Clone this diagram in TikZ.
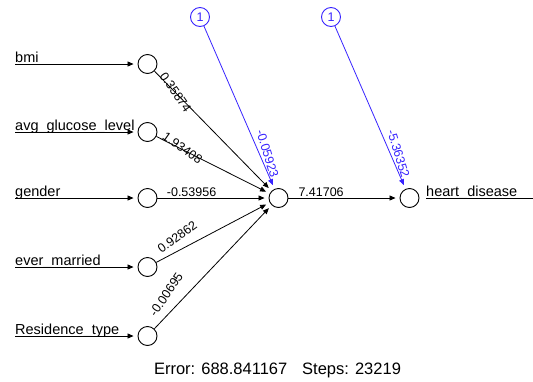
\documentclass[tikz,border=0pt]{standalone}
\usepackage{fontspec}
\setmainfont{Liberation Sans}
\usetikzlibrary{arrows.meta}
\definecolor{biasblue}{RGB}{55,35,255}
\begin{document}
\begin{tikzpicture}[x=1pt,y=-1pt,
  neuron/.style={circle,draw=black,line width=0.9pt,minimum size=19pt,inner sep=0pt},
  biasnode/.style={neuron,draw=biasblue,text=biasblue,font=\fontsize{12.5}{14}\selectfont},
  syn/.style={line width=0.8pt,-{Triangle[length=6pt,width=5pt]},shorten >=4pt},
  biassyn/.style={syn,draw=biasblue},
  wlab/.style={font=\fontsize{12.5}{14}\selectfont,inner sep=0pt,anchor=west},
  inlab/.style={font=\fontsize{14.5}{16}\selectfont,inner sep=0pt,anchor=base west},
]
\useasboundingbox (0,0) rectangle (533,381);

% neurons
\node[neuron] (bmi) at (147.5,64) {};
\node[neuron] (avg) at (147.5,132) {};
\node[neuron] (gen) at (147.5,198) {};
\node[neuron] (eve) at (147.5,267) {};
\node[neuron] (res) at (147.5,336) {};
\node[neuron] (hid) at (278.5,198) {};
\node[neuron] (out) at (409.5,198) {};
\node[biasnode] (b1) at (200,17) {1};
\node[biasnode] (b2) at (331,17) {1};

% input lines with their labels
\coordinate (s1) at (15,64);
\coordinate (s2) at (15,132);
\coordinate (s3) at (15,198);
\coordinate (s4) at (15,267);
\coordinate (s5) at (15,336);
\draw[syn] (s1) -- (bmi);
\draw[syn] (s2) -- (avg);
\draw[syn] (s3) -- (gen);
\draw[syn] (s4) -- (eve);
\draw[syn] (s5) -- (res);
\node[inlab] at (15,62) {bmi};
\node[inlab] at (15,130) {avg\_glucose\_level};
\node[inlab] at (15,196) {gender};
\node[inlab] at (15,265) {ever\_married};
\node[inlab] at (15,334) {Residence\_type};

% input to hidden synapses
\draw[syn] (bmi) -- (hid);
\draw[syn] (avg) -- (hid);
\draw[syn] (gen) -- (hid);
\draw[syn] (eve) -- (hid);
\draw[syn] (res) -- (hid);
\node[wlab,rotate=-55.1] at (162.5,73.5) {0.35874};
\node[wlab,rotate=-35.2] at (164,135) {1.93408};
\node[wlab] at (166.7,192.5) {-0.53956};
\node[wlab,rotate=36.4] at (158.9,250.4) {0.92862};
\node[wlab,rotate=55.8] at (152.2,315) {-0.00695};

% intercepts
\draw[biassyn] (b1) -- (hid);
\draw[biassyn] (b2) -- (out);
\node[wlab,text=biasblue,rotate=-72.9] at (260.1,129.8) {-0.05923};
\node[wlab,text=biasblue,rotate=-72.9] at (391.1,129.8) {-5.36352};

% hidden to output
\draw[syn] (hid) -- (out);
\node[wlab] at (298.3,192.5) {7.41706};

% output line
\coordinate (oend) at (533,198);
\draw[line width=0.8pt,shorten <=7pt] (out) -- (oend);
\node[inlab] at (426,196) {heart\_disease};

% training summary
\node[font=\fontsize{16.5}{18}\selectfont,anchor=base,inner sep=0pt] (err) at (277.5,374.5) {Error: 688.841167\hspace{0.9em}Steps: 23219};
\end{tikzpicture}
\end{document}
